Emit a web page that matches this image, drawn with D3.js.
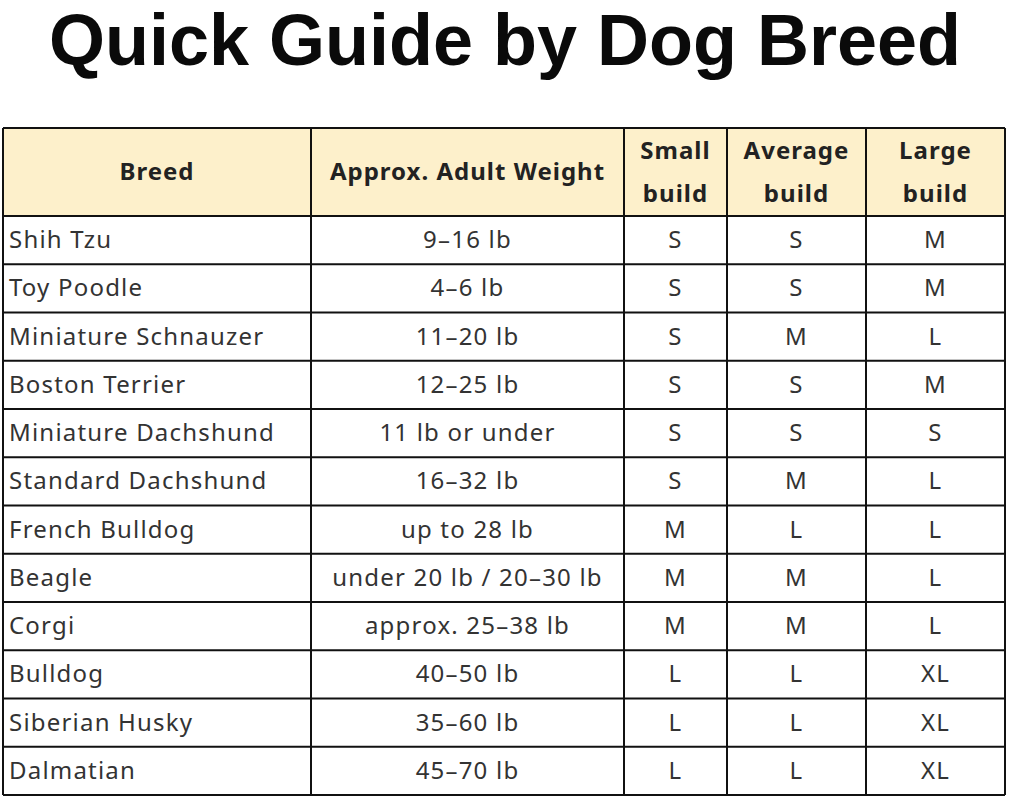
<!DOCTYPE html>
<html><head><meta charset="utf-8">
<script src="https://cdn.jsdelivr.net/npm/d3@7"></script>
<style>body{margin:0;background:#fff}</style></head>
<body><svg id="c" width="1014" height="800"></svg>
<script>
const title = "Quick Guide by Dog Breed";
const headers = [["Breed"],["Approx. Adult Weight"],["Small","build"],["Average","build"],["Large","build"]];
const breeds = ["Shih Tzu","Toy Poodle","Miniature Schnauzer","Boston Terrier","Miniature Dachshund","Standard Dachshund","French Bulldog","Beagle","Corgi","Bulldog","Siberian Husky","Dalmatian"];
const weights = ["9–16 lb","4–6 lb","11–20 lb","12–25 lb","11 lb or under","16–32 lb","up to 28 lb","under 20 lb / 20–30 lb","approx. 25–38 lb","40–50 lb","35–60 lb","45–70 lb"];
const smallBuild = ["S","S","S","S","S","S","M","M","M","L","L","L"];
const averageBuild = ["S","S","M","S","S","M","L","M","M","L","L","L"];
const largeBuild = ["M","M","L","M","S","L","L","L","L","XL","XL","XL"];

const svg = d3.select("#c");
svg.append("text").attr("x",505).attr("y",65).attr("text-anchor","middle")
  .attr("font-family","Liberation Sans, Arial, sans-serif").attr("font-weight","bold")
  .attr("font-size",72).attr("fill","#0a0a0a").text(title);

const colEdges = [3,311,624,727,866,1005];
const headTop = 128, headBottom = 216, bottom = 795;
const y = d3.scaleBand().domain(d3.range(breeds.length)).range([headBottom,bottom]);
const font = "Noto Sans, DejaVu Sans, sans-serif";

svg.append("rect").attr("x",colEdges[0]).attr("y",headTop).attr("width",colEdges[5]-colEdges[0])
  .attr("height",headBottom-headTop).attr("fill","#fdf0cb");

headers.forEach((h,i)=>{
  const cx=(colEdges[i]+colEdges[i+1])/2;
  const t=svg.append("text").attr("x",cx).attr("text-anchor","middle").attr("font-family",font)
    .attr("font-weight","bold").attr("font-size",24).attr("letter-spacing",1).attr("fill","#222");
  if(h.length===1) t.attr("y",180).text(h[0]);
  else { t.append("tspan").attr("x",cx).attr("y",159).text(h[0]);
         t.append("tspan").attr("x",cx).attr("y",202).text(h[1]); }
});

const rows = breeds.map((b,i)=>[b,weights[i],smallBuild[i],averageBuild[i],largeBuild[i]]);
rows.forEach((r,i)=>{
  const cy=y(i)+y.bandwidth()/2+8;
  r.forEach((v,j)=>{
    svg.append("text").attr("x", j===0? colEdges[0]+6 : (colEdges[j]+colEdges[j+1])/2)
      .attr("y",cy).attr("text-anchor", j===0?"start":"middle")
      .attr("font-family",font).attr("font-size",24).attr("letter-spacing",1.2).attr("fill","#333").text(v);
  });
});

const g=svg.append("g").attr("stroke","#111").attr("stroke-width",2);
[headTop,headBottom,...d3.range(1,breeds.length).map(i=>y(i)),bottom].forEach(yy=>
  g.append("line").attr("x1",colEdges[0]).attr("x2",colEdges[5]).attr("y1",yy).attr("y2",yy));
colEdges.forEach(x=>g.append("line").attr("x1",x).attr("x2",x).attr("y1",headTop).attr("y2",bottom));
</script></body></html>
